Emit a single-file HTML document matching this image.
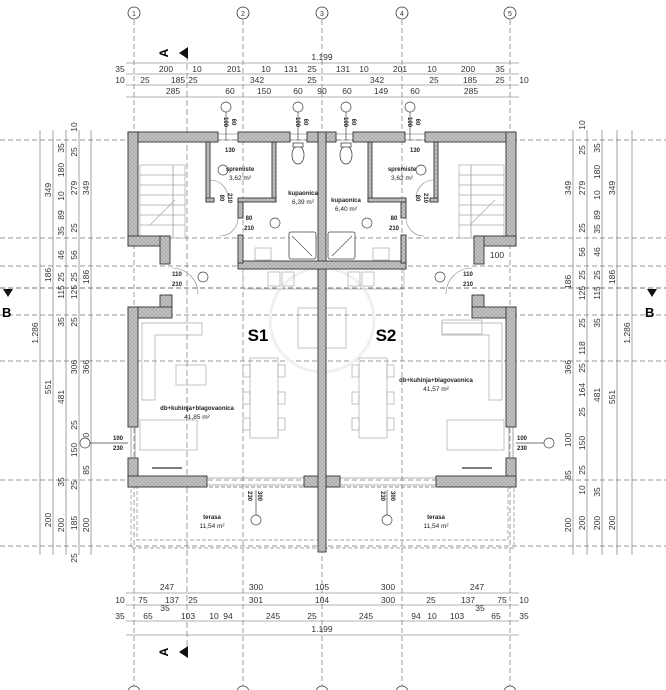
<!DOCTYPE html>
<html><head><meta charset="utf-8"><style>
html,body{margin:0;padding:0;background:#fff;}
svg{display:block;font-family:"Liberation Sans",sans-serif;}
.d{font-size:8.5px;fill:#333;text-anchor:middle;}
.s{font-size:6px;fill:#222;text-anchor:middle;}
.b{font-size:6px;fill:#222;text-anchor:middle;font-weight:bold;}
.g{stroke:#777;stroke-width:.7;stroke-dasharray:5 3;fill:none;}
.w{fill:url(#hatch);stroke:#333;stroke-width:.9;}
.f{fill:none;stroke:#aaa;stroke-width:.7;}
.dl{stroke:#666;stroke-width:.6;fill:none;}
</style></head><body>
<svg width="666" height="690" viewBox="0 0 666 690" xmlns="http://www.w3.org/2000/svg">
<defs>
<pattern id="hatch" width="4" height="4" patternUnits="userSpaceOnUse">
<rect width="4" height="4" fill="#ababab"/><path d="M0 0 L4 4 M4 0 L0 4" stroke="#d0d0d0" stroke-width=".6"/>
</pattern>
</defs>
<g class="g">
<line x1="134" y1="20" x2="134" y2="690"/><line x1="243" y1="20" x2="243" y2="690"/>
<line x1="322" y1="20" x2="322" y2="690"/><line x1="402" y1="20" x2="402" y2="690"/>
<line x1="510" y1="20" x2="510" y2="690"/>
<line x1="187" y1="55" x2="187" y2="655" stroke-dasharray="6 3"/>
<line x1="0" y1="140" x2="666" y2="140"/><line x1="0" y1="238" x2="666" y2="238"/>
<line x1="0" y1="266" x2="666" y2="266"/><line x1="0" y1="288" x2="666" y2="288" stroke="#444"/>
<line x1="0" y1="315" x2="666" y2="315"/><line x1="0" y1="361" x2="666" y2="361"/>
<line x1="0" y1="480" x2="666" y2="480"/><line x1="0" y1="546" x2="666" y2="546"/>
</g>
<g fill="#fff" stroke="#333" stroke-width=".8">
<circle cx="134" cy="13" r="6"/><circle cx="243" cy="13" r="6"/><circle cx="322" cy="13" r="6"/><circle cx="402" cy="13" r="6"/><circle cx="510" cy="13" r="6"/>
<circle cx="134" cy="692" r="6"/><circle cx="243" cy="692" r="6"/><circle cx="322" cy="692" r="6"/><circle cx="402" cy="692" r="6"/><circle cx="510" cy="692" r="6"/>
</g>
<g class="d" style="font-size:7px"><text x="134" y="16">1</text><text x="243" y="16">2</text><text x="322" y="16">3</text><text x="402" y="16">4</text><text x="510" y="16">5</text></g>
<text transform="translate(168,53) rotate(-90)" style="font-size:12px;font-weight:bold;text-anchor:middle">A</text>
<polygon points="179,53 188,47 188,59" fill="#111"/>
<text transform="translate(168,652) rotate(-90)" style="font-size:12px;font-weight:bold;text-anchor:middle">A</text>
<polygon points="179,652 188,646 188,658" fill="#111"/>
<polygon points="3,289 13,289 8,297" fill="#111"/><text x="2" y="317" style="font-size:13px;font-weight:bold">B</text>
<polygon points="647,289 657,289 652,297" fill="#111"/><text x="645" y="317" style="font-size:13px;font-weight:bold">B</text>
<g class="dl"><line x1="126" y1="63" x2="519" y2="63"/><line x1="126" y1="74" x2="519" y2="74"/><line x1="126" y1="85" x2="519" y2="85"/><line x1="126" y1="97" x2="519" y2="97"/>
<line x1="126" y1="593" x2="519" y2="593"/><line x1="126" y1="605" x2="519" y2="605"/><line x1="126" y1="621" x2="519" y2="621"/><line x1="126" y1="635" x2="519" y2="635"/></g>
<g class="d">
<text x="322" y="60">1.199</text>
<text x="120" y="72">35</text><text x="166" y="72">200</text><text x="197" y="72">10</text><text x="234" y="72">201</text><text x="266" y="72">10</text><text x="291" y="72">131</text><text x="312" y="72">25</text><text x="343" y="72">131</text><text x="364" y="72">10</text><text x="400" y="72">201</text><text x="432" y="72">10</text><text x="468" y="72">200</text><text x="500" y="72">35</text>
<text x="120" y="83">10</text><text x="145" y="83">25</text><text x="178" y="83">185</text><text x="193" y="83">25</text><text x="257" y="83">342</text><text x="312" y="83">25</text><text x="377" y="83">342</text><text x="434" y="83">25</text><text x="470" y="83">185</text><text x="500" y="83">25</text><text x="524" y="83">10</text>
<text x="173" y="94">285</text><text x="230" y="94">60</text><text x="264" y="94">150</text><text x="298" y="94">60</text><text x="322" y="94">90</text><text x="347" y="94">60</text><text x="381" y="94">149</text><text x="415" y="94">60</text><text x="471" y="94">285</text>
<text x="167" y="590">247</text><text x="256" y="590">300</text><text x="322" y="590">105</text><text x="388" y="590">300</text><text x="477" y="590">247</text>
<text x="120" y="603">10</text><text x="143" y="603">75</text><text x="172" y="603">137</text><text x="165" y="611">35</text><text x="193" y="603">25</text><text x="256" y="603">301</text><text x="322" y="603">104</text><text x="388" y="603">300</text><text x="431" y="603">25</text><text x="468" y="603">137</text><text x="480" y="611">35</text><text x="502" y="603">75</text><text x="524" y="603">10</text>
<text x="120" y="619">35</text><text x="148" y="619">65</text><text x="188" y="619">103</text><text x="214" y="619">10</text><text x="228" y="619">94</text><text x="273" y="619">245</text><text x="312" y="619">25</text><text x="366" y="619">245</text><text x="416" y="619">94</text><text x="432" y="619">10</text><text x="457" y="619">103</text><text x="496" y="619">65</text><text x="524" y="619">35</text>
<text x="322" y="632">1.199</text>
</g>
<g class="dl">
<line x1="40" y1="130" x2="40" y2="555"/><line x1="53" y1="130" x2="53" y2="555"/><line x1="66" y1="130" x2="66" y2="555"/><line x1="79" y1="130" x2="79" y2="555"/><line x1="91" y1="130" x2="91" y2="555"/>
<line x1="573" y1="130" x2="573" y2="555"/><line x1="587" y1="130" x2="587" y2="555"/><line x1="602" y1="130" x2="602" y2="555"/><line x1="617" y1="130" x2="617" y2="555"/><line x1="632" y1="130" x2="632" y2="555"/>
</g>
<g class="d">
<text transform="translate(38,333) rotate(-90)">1.286</text>
<text transform="translate(51,190) rotate(-90)">349</text><text transform="translate(51,275) rotate(-90)">186</text><text transform="translate(51,387) rotate(-90)">551</text><text transform="translate(51,520) rotate(-90)">200</text>
<text transform="translate(64,148) rotate(-90)">35</text><text transform="translate(64,170) rotate(-90)">180</text><text transform="translate(64,196) rotate(-90)">10</text><text transform="translate(64,215) rotate(-90)">89</text><text transform="translate(64,231) rotate(-90)">35</text><text transform="translate(64,255) rotate(-90)">46</text><text transform="translate(64,277) rotate(-90)">25</text><text transform="translate(64,292) rotate(-90)">115</text><text transform="translate(64,322) rotate(-90)">35</text><text transform="translate(64,397) rotate(-90)">481</text><text transform="translate(64,482) rotate(-90)">35</text><text transform="translate(64,525) rotate(-90)">200</text>
<text transform="translate(77,127) rotate(-90)">10</text><text transform="translate(77,152) rotate(-90)">25</text><text transform="translate(77,188) rotate(-90)">279</text><text transform="translate(77,228) rotate(-90)">25</text><text transform="translate(77,255) rotate(-90)">56</text><text transform="translate(77,277) rotate(-90)">25</text><text transform="translate(77,292) rotate(-90)">125</text><text transform="translate(77,322) rotate(-90)">25</text><text transform="translate(77,367) rotate(-90)">306</text><text transform="translate(77,425) rotate(-90)">25</text><text transform="translate(77,450) rotate(-90)">150</text><text transform="translate(77,485) rotate(-90)">25</text><text transform="translate(77,523) rotate(-90)">185</text><text transform="translate(77,558) rotate(-90)">25</text>
<text transform="translate(89,188) rotate(-90)">349</text><text transform="translate(89,277) rotate(-90)">186</text><text transform="translate(89,367) rotate(-90)">366</text><text transform="translate(89,440) rotate(-90)">100</text><text transform="translate(89,470) rotate(-90)">85</text><text transform="translate(89,525) rotate(-90)">200</text>
<text transform="translate(571,188) rotate(-90)">349</text><text transform="translate(571,282) rotate(-90)">186</text><text transform="translate(571,367) rotate(-90)">366</text><text transform="translate(571,440) rotate(-90)">100</text><text transform="translate(571,475) rotate(-90)">85</text><text transform="translate(571,525) rotate(-90)">200</text>
<text transform="translate(585,125) rotate(-90)">10</text><text transform="translate(585,150) rotate(-90)">25</text><text transform="translate(585,188) rotate(-90)">279</text><text transform="translate(585,228) rotate(-90)">25</text><text transform="translate(585,252) rotate(-90)">56</text><text transform="translate(585,275) rotate(-90)">25</text><text transform="translate(585,293) rotate(-90)">125</text><text transform="translate(585,323) rotate(-90)">25</text><text transform="translate(585,348) rotate(-90)">118</text><text transform="translate(585,368) rotate(-90)">25</text><text transform="translate(585,390) rotate(-90)">164</text><text transform="translate(585,412) rotate(-90)">25</text><text transform="translate(585,443) rotate(-90)">150</text><text transform="translate(585,470) rotate(-90)">25</text><text transform="translate(585,490) rotate(-90)">10</text><text transform="translate(585,523) rotate(-90)">200</text>
<text transform="translate(600,148) rotate(-90)">35</text><text transform="translate(600,172) rotate(-90)">180</text><text transform="translate(600,195) rotate(-90)">10</text><text transform="translate(600,215) rotate(-90)">89</text><text transform="translate(600,229) rotate(-90)">35</text><text transform="translate(600,252) rotate(-90)">46</text><text transform="translate(600,275) rotate(-90)">25</text><text transform="translate(600,293) rotate(-90)">115</text><text transform="translate(600,323) rotate(-90)">35</text><text transform="translate(600,395) rotate(-90)">481</text><text transform="translate(600,492) rotate(-90)">35</text><text transform="translate(600,523) rotate(-90)">200</text>
<text transform="translate(615,188) rotate(-90)">349</text><text transform="translate(615,277) rotate(-90)">186</text><text transform="translate(615,397) rotate(-90)">551</text><text transform="translate(615,523) rotate(-90)">200</text>
<text transform="translate(630,333) rotate(-90)">1.286</text>
</g>
<rect x="131" y="487" width="383" height="61" fill="none" stroke="#888" stroke-width=".7" stroke-dasharray="4 2"/>
<rect x="137" y="487" width="371" height="53" fill="none" stroke="#888" stroke-width=".7" stroke-dasharray="4 2"/>
<g stroke="#666" stroke-width=".6"><line x1="207" y1="478" x2="304" y2="478"/><line x1="207" y1="485" x2="304" y2="485"/><line x1="340" y1="478" x2="436" y2="478"/><line x1="340" y1="485" x2="436" y2="485"/>
<line x1="218" y1="134" x2="238" y2="134"/><line x1="218" y1="140" x2="238" y2="140"/><line x1="290" y1="134" x2="307" y2="134"/><line x1="290" y1="140" x2="307" y2="140"/><line x1="336" y1="134" x2="353" y2="134"/><line x1="336" y1="140" x2="353" y2="140"/><line x1="405" y1="134" x2="425" y2="134"/><line x1="405" y1="140" x2="425" y2="140"/>
<line x1="131" y1="427" x2="131" y2="458"/><line x1="135" y1="427" x2="135" y2="458"/><line x1="509" y1="427" x2="509" y2="458"/><line x1="513" y1="427" x2="513" y2="458"/></g>
<g class="f">
<circle cx="322" cy="320" r="52" stroke="#f0f0f0" stroke-width="3"/>
<rect x="140" y="165" width="33" height="73"/><rect x="173" y="165" width="12" height="73"/>
<line x1="140" y1="175" x2="185" y2="175"/><line x1="140" y1="185" x2="185" y2="185"/><line x1="140" y1="195" x2="185" y2="195"/><line x1="140" y1="205" x2="185" y2="205"/><line x1="140" y1="215" x2="185" y2="215"/><line x1="140" y1="225" x2="185" y2="225"/><line x1="150" y1="225" x2="175" y2="200"/>
<rect x="471" y="165" width="33" height="73"/><rect x="459" y="165" width="12" height="73"/>
<line x1="459" y1="175" x2="504" y2="175"/><line x1="459" y1="185" x2="504" y2="185"/><line x1="459" y1="195" x2="504" y2="195"/><line x1="459" y1="205" x2="504" y2="205"/><line x1="459" y1="215" x2="504" y2="215"/><line x1="459" y1="225" x2="504" y2="225"/><line x1="470" y1="225" x2="495" y2="200"/>
<path d="M142 323 H202 V335 H155 V400 H142 Z"/><rect x="176" y="365" width="30" height="20"/>
<path d="M502 323 H442 V335 H489 V400 H502 Z"/><rect x="442" y="320" width="40" height="14"/>
<rect x="250" y="358" width="28" height="80"/><rect x="243" y="365" width="7" height="12"/><rect x="243" y="392" width="7" height="12"/><rect x="243" y="418" width="7" height="12"/><rect x="278" y="365" width="7" height="12"/><rect x="278" y="392" width="7" height="12"/><rect x="278" y="418" width="7" height="12"/>
<rect x="359" y="358" width="28" height="80"/><rect x="352" y="365" width="7" height="12"/><rect x="352" y="392" width="7" height="12"/><rect x="352" y="418" width="7" height="12"/><rect x="387" y="365" width="7" height="12"/><rect x="387" y="392" width="7" height="12"/><rect x="387" y="418" width="7" height="12"/>
<rect x="243" y="269" width="75" height="20"/><rect x="326" y="269" width="78" height="20"/>
<rect x="268" y="272" width="12" height="14"/><rect x="282" y="272" width="12" height="14"/><rect x="348" y="272" width="12" height="14"/><rect x="362" y="272" width="12" height="14"/>
<rect x="298" y="308" width="20" height="40"/><rect x="326" y="308" width="20" height="40"/>
<rect x="255" y="248" width="16" height="12"/><rect x="373" y="248" width="16" height="12"/>
<rect x="140" y="420" width="57" height="30"/><rect x="447" y="420" width="57" height="30"/>
</g>
<g stroke="#333" stroke-width="1.3"><line x1="152" y1="468" x2="182" y2="468"/><line x1="462" y1="468" x2="492" y2="468"/></g>
<g fill="#fff" stroke="#444" stroke-width=".8">
<rect x="289" y="232" width="27" height="27" rx="2"/><rect x="328" y="232" width="27" height="27" rx="2"/>
<ellipse cx="298" cy="155" rx="6" ry="9"/><rect x="293" y="143" width="10" height="4"/>
<ellipse cx="346" cy="155" rx="6" ry="9"/><rect x="341" y="143" width="10" height="4"/>
</g>
<g stroke="#555" stroke-width=".7"><line x1="292" y1="236" x2="312" y2="256"/><line x1="352" y1="236" x2="332" y2="256"/></g>
<g fill="none" stroke="#888" stroke-width=".6">
<path d="M238 218 A18 18 0 0 1 220 236"/><path d="M406 218 A18 18 0 0 0 424 236"/>
<path d="M210 180 A18 18 0 0 1 228 198"/><path d="M434 180 A18 18 0 0 0 416 198"/>
<path d="M172 268 A26 26 0 0 1 198 294"/><path d="M472 268 A26 26 0 0 0 446 294"/>
</g>
<g class="w">
<rect x="128" y="132" width="90" height="10"/><rect x="238" y="132" width="52" height="10"/><rect x="307" y="132" width="29" height="10"/><rect x="353" y="132" width="52" height="10"/><rect x="425" y="132" width="91" height="10"/>
<rect x="128" y="132" width="10" height="114"/><rect x="128" y="236" width="42" height="10"/><rect x="160" y="236" width="10" height="28"/>
<rect x="506" y="132" width="10" height="114"/><rect x="474" y="236" width="42" height="10"/><rect x="474" y="236" width="10" height="28"/>
<rect x="160" y="295" width="12" height="12"/><rect x="128" y="307" width="44" height="11"/><rect x="128" y="307" width="10" height="120"/><rect x="128" y="458" width="10" height="29"/>
<rect x="472" y="295" width="12" height="12"/><rect x="472" y="307" width="44" height="11"/><rect x="506" y="307" width="10" height="120"/><rect x="506" y="458" width="10" height="29"/>
<rect x="128" y="476" width="79" height="11"/><rect x="304" y="476" width="36" height="11"/><rect x="436" y="476" width="80" height="11"/>
<rect x="318" y="132" width="8" height="420"/>
<rect x="238" y="261" width="168" height="8"/>
<rect x="238" y="202" width="5" height="16"/><rect x="238" y="235" width="5" height="28"/>
<rect x="401" y="202" width="5" height="16"/><rect x="401" y="235" width="5" height="28"/>
<rect x="206" y="142" width="4" height="60"/><rect x="272" y="142" width="4" height="60"/><rect x="206" y="198" width="8" height="4"/><rect x="238" y="198" width="38" height="4"/>
<rect x="434" y="142" width="4" height="60"/><rect x="368" y="142" width="4" height="60"/><rect x="430" y="198" width="8" height="4"/><rect x="368" y="198" width="38" height="4"/>
</g>
<g fill="#fff" stroke="#444" stroke-width=".7">
<line x1="226" y1="112" x2="226" y2="140"/><circle cx="226" cy="107" r="5"/>
<line x1="298" y1="112" x2="298" y2="140"/><circle cx="298" cy="107" r="5"/>
<line x1="346" y1="112" x2="346" y2="140"/><circle cx="346" cy="107" r="5"/>
<line x1="410" y1="112" x2="410" y2="140"/><circle cx="410" cy="107" r="5"/>
<circle cx="223" cy="170" r="5"/><circle cx="275" cy="223" r="5"/><circle cx="203" cy="277" r="5"/>
<circle cx="421" cy="170" r="5"/><circle cx="367" cy="223" r="5"/><circle cx="440" cy="277" r="5"/>
<line x1="256" y1="490" x2="256" y2="515"/><circle cx="256" cy="520" r="5"/>
<line x1="387" y1="490" x2="387" y2="515"/><circle cx="387" cy="520" r="5"/>
<line x1="90" y1="443" x2="128" y2="443"/><circle cx="85" cy="443" r="5"/>
<line x1="516" y1="443" x2="544" y2="443"/><circle cx="549" cy="443" r="5"/>
</g>
<g class="b">
<text transform="translate(224,122) rotate(90)">100</text><text transform="translate(232,122) rotate(90)">60</text>
<text transform="translate(296,122) rotate(90)">100</text><text transform="translate(304,122) rotate(90)">60</text>
<text transform="translate(344,122) rotate(90)">100</text><text transform="translate(352,122) rotate(90)">60</text>
<text transform="translate(408,122) rotate(90)">100</text><text transform="translate(416,122) rotate(90)">60</text>
<text x="230" y="152">130</text><text x="415" y="152">130</text>
<text transform="translate(220,198) rotate(90)">80</text><text transform="translate(228,198) rotate(90)">210</text>
<text transform="translate(416,198) rotate(90)">80</text><text transform="translate(424,198) rotate(90)">210</text>
<text x="249" y="220">80</text><text x="249" y="230">210</text><text x="394" y="220">80</text><text x="394" y="230">210</text>
<text x="177" y="276">110</text><text x="177" y="286">210</text><text x="468" y="276">110</text><text x="468" y="286">210</text>
<text x="118" y="440">100</text><text x="118" y="450">230</text><text x="522" y="440">100</text><text x="522" y="450">230</text>
<text transform="translate(248,496) rotate(90)">230</text><text transform="translate(258,496) rotate(90)">300</text>
<text transform="translate(381,496) rotate(90)">230</text><text transform="translate(391,496) rotate(90)">300</text>
<text x="240" y="171">spremiste</text><text x="402" y="171">spremiste</text>
<text x="303" y="195">kupaonica</text><text x="346" y="202">kupaonica</text>
<text x="197" y="410">db+kuhinja+blagovaonica</text><text x="436" y="382">db+kuhinja+blagovaonica</text>
<text x="212" y="519">terasa</text><text x="436" y="519">terasa</text>
</g>
<g class="s" style="font-size:6.5px">
<text x="240" y="180">3,62 m²</text><text x="402" y="180">3,62 m²</text>
<text x="303" y="204">6,39 m²</text><text x="346" y="211">6,40 m²</text>
<text x="197" y="419">41,85 m²</text><text x="436" y="391">41,57 m²</text>
<text x="212" y="528">11,54 m²</text><text x="436" y="528">11,54 m²</text>
</g>
<text x="497" y="258" class="d">100</text>
<text x="258" y="341" style="font-size:17px;font-weight:bold;text-anchor:middle">S1</text>
<text x="386" y="341" style="font-size:17px;font-weight:bold;text-anchor:middle">S2</text>
</svg>
</body></html>
